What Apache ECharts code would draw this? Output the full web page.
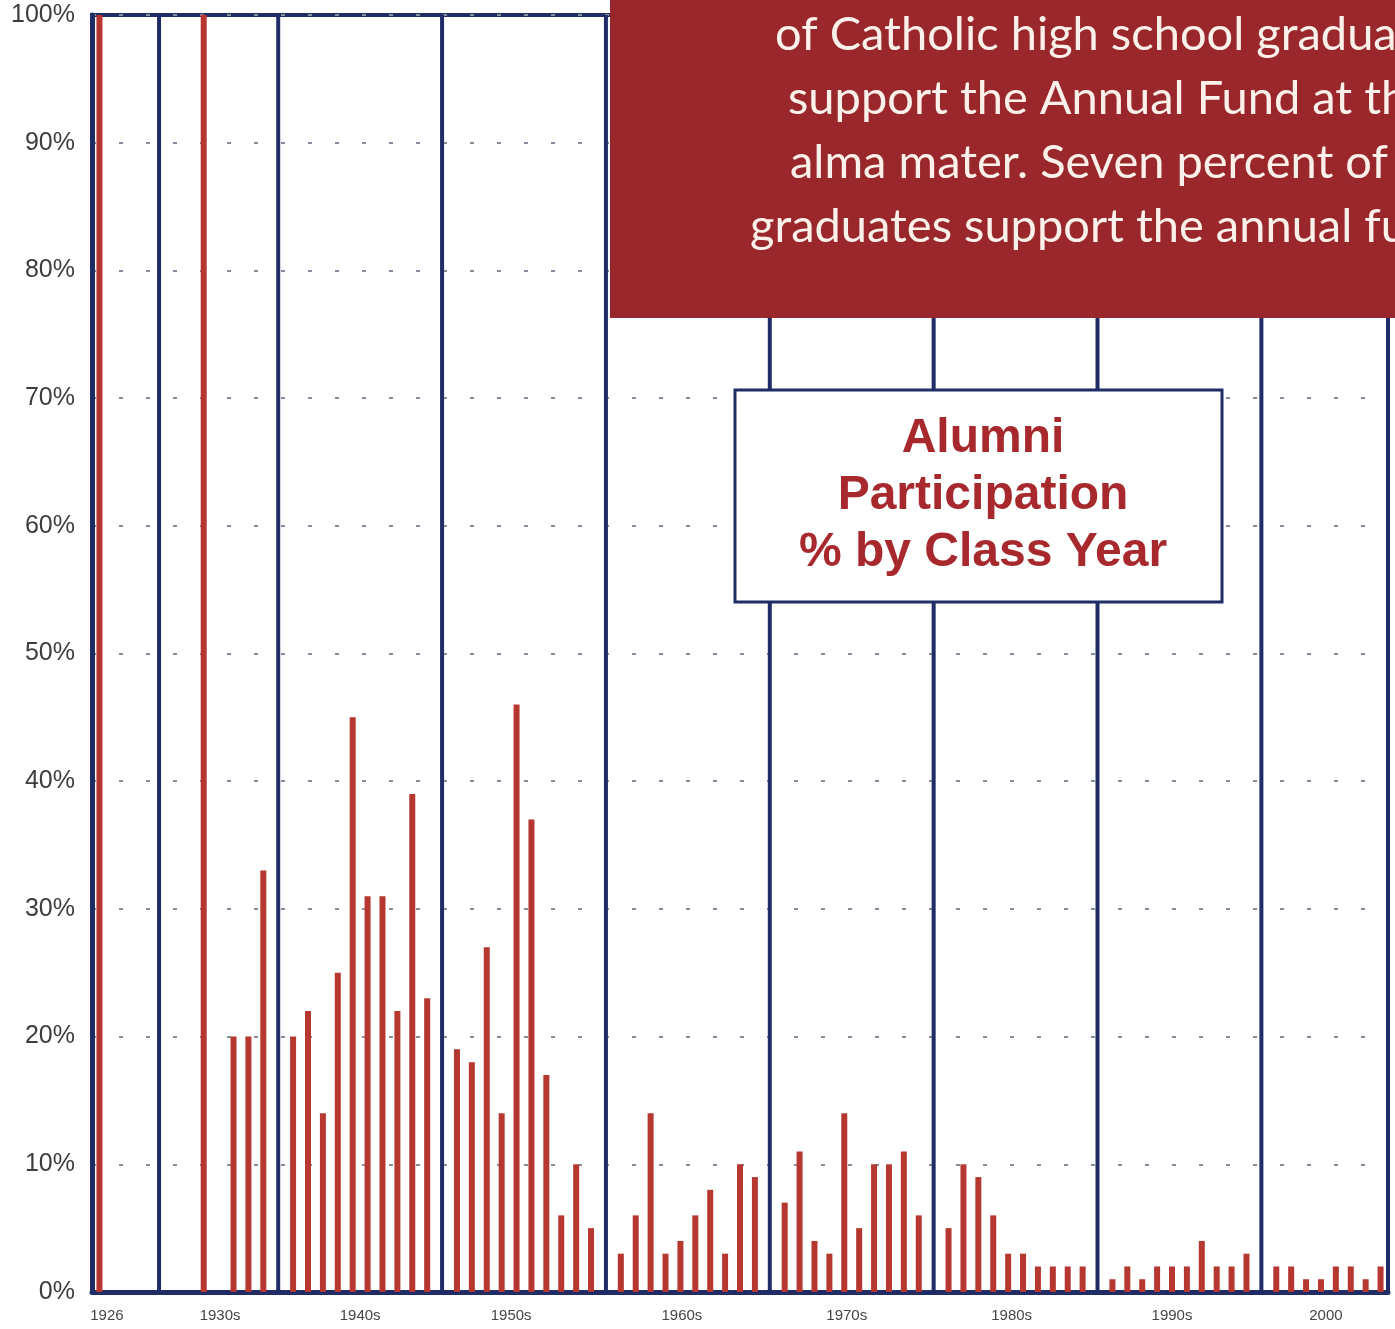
<!DOCTYPE html>
<html>
<head>
<meta charset="utf-8">
<title>Alumni Participation % by Class Year</title>
<script src="https://cdn.jsdelivr.net/npm/echarts@6/dist/echarts.min.js"></script>
<style>
  html, body { margin: 0; padding: 0; background: #fff; }
  #chart { width: 1395px; height: 1329px; }
</style>
</head>
<body>
<div id="chart"></div>
<script>
// participation % per class year, one array per decade block
const block1926 = [100, 0, 0, 0];
const block1930s = [0, 0, 100, 0, 20, 20, 33];
const block1940s = [20, 22, 14, 25, 45, 31, 31, 22, 39, 23];
const block1950s = [19, 18, 27, 14, 46, 37, 17, 6, 10, 5];
const block1960s = [3, 6, 14, 3, 4, 6, 8, 3, 10, 9];
const block1970s = [7, 11, 4, 3, 14, 5, 10, 10, 11, 6];
const block1980s = [5, 10, 9, 6, 3, 3, 2, 2, 2, 2];
const block1990s = [1, 2, 1, 2, 2, 2, 4, 2, 2, 3];
const block2000s = [2, 2, 1, 1, 2, 2, 1, 2];

const blockLabels = ['1926', '1930s', '1940s', '1950s', '1960s', '1970s', '1980s', '1990s', '2000'];
// which year inside each block carries the decade label
const labelAt = [0, 3, 4, 3, 4, 4, 4, 4, 3];
// the printed labels sit a few px right of the bar they belong to
const labelNudge = [15, 3, 15, 19, 3, 5, 7, 0, 10];

const yTicks = [0, 10, 20, 30, 40, 50, 60, 70, 80, 90, 100];

const blurb = [
  'of Catholic high school graduates',
  'support the Annual Fund at their',
  'alma mater. Seven percent of',
  'graduates support the annual fund'
];
const boxTitle = ['Alumni', 'Participation', '% by Class Year'];

const NAVY = '#1f2c66';
const RED = '#b5372f';

// build slots: each block followed by a divider slot
const blocks = [block1926, block1930s, block1940s, block1950s, block1960s,
  block1970s, block1980s, block1990s, block2000s];
const slots = [];
const values = [];
const dividers = [];
const tickText = [];
blocks.forEach((b, bi) => {
  b.forEach((v, i) => {
    slots.push('b' + bi + '_' + i);
    values.push(v);
    dividers.push(null);
    tickText.push(i === labelAt[bi] ? '{n' + bi + '|' + blockLabels[bi] + '}' : '');
  });
  if (bi < blocks.length - 1) {
    slots.push('div' + bi);
    values.push(null);
    dividers.push(100);
    tickText.push('');
  }
});

const labelRich = {};
labelNudge.forEach((p, i) => {
  labelRich['n' + i] = {
    fontSize: 15,
    color: '#454545',
    fontFamily: 'Liberation Sans, Arial, sans-serif',
    padding: [0, 0, 0, p]
  };
});

const myChart = echarts.init(document.getElementById('chart'));

const option = {
  animation: false,
  grid: {
    left: 92, right: 7, top: 15, bottom: 37,
    show: true,
    borderColor: NAVY,
    borderWidth: 4,
    backgroundColor: 'transparent'
  },
  xAxis: [
    {
      type: 'category',
      data: slots,
      axisLine: { lineStyle: { color: NAVY, width: 5 } },
      axisTick: { show: false },
      axisLabel: {
        interval: 0,
        margin: 16,
        fontSize: 15,
        color: '#454545',
        fontFamily: 'Liberation Sans, Arial, sans-serif',
        formatter: (v, idx) => tickText[idx],
        rich: labelRich
      }
    },
    {
      type: 'category',
      data: slots,
      show: false
    }
  ],
  yAxis: {
    type: 'value',
    min: yTicks[0],
    max: yTicks[yTicks.length - 1],
    interval: 10,
    axisLine: { show: true, lineStyle: { color: NAVY, width: 5 } },
    axisTick: { show: false },
    axisLabel: {
      margin: 17,
      fontSize: 25,
      color: '#3d3d3d',
      fontFamily: 'Liberation Sans, Arial, sans-serif',
      formatter: '{value}%'
    },
    splitLine: {
      lineStyle: { color: '#878d9c', width: 2, type: [4, 23] }
    }
  },
  series: [
    {
      name: 'Participation',
      type: 'bar',
      data: values,
      barWidth: 6,
      itemStyle: { color: RED }
    },
    {
      name: 'Decade divider',
      type: 'bar',
      xAxisIndex: 1,
      data: dividers,
      barWidth: 4,
      itemStyle: { color: NAVY }
    }
  ],
  graphic: [
    {
      type: 'rect',
      z: 100,
      shape: { x: 610, y: 0, width: 800, height: 318 },
      style: { fill: '#9a272b' }
    },
    ...blurb.map((t, i) => ({
      type: 'text',
      z: 101,
      x: [775, 788, 790, 750][i],
      y: 35 + i * 64,
      style: {
        text: t,
        fill: '#fbf1ea',
        font: '47px Lato, "Open Sans", sans-serif',
        textAlign: 'left',
        textVerticalAlign: 'middle'
      }
    })),
    {
      type: 'rect',
      z: 100,
      shape: { x: 735, y: 390, width: 487, height: 212 },
      style: { fill: '#fff', stroke: NAVY, lineWidth: 3 }
    },
    ...boxTitle.map((t, i) => ({
      type: 'text',
      z: 101,
      x: 983,
      y: 439 + i * 57,
      style: {
        text: t,
        fill: '#a8292d',
        font: 'bold 48px "Liberation Sans", Arial, sans-serif',
        textAlign: 'center',
        textVerticalAlign: 'middle'
      }
    }))
  ]
};

myChart.setOption(option);
window.addEventListener('resize', myChart.resize);
</script>
</body>
</html>
